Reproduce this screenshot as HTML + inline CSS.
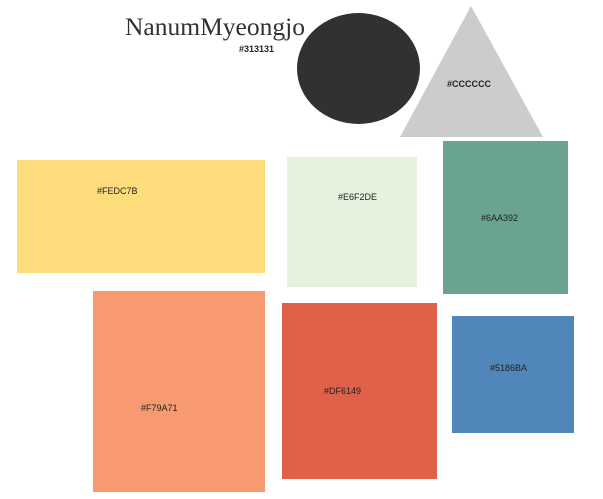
<!DOCTYPE html>
<html><head><meta charset="utf-8"><style>
html,body{margin:0;padding:0;background:#fff;width:603px;height:499px;overflow:hidden}
svg{display:block}
.l{font-family:"Liberation Sans",Arial,sans-serif;font-size:9px;fill:#222}
</style></head><body>
<svg width="603" height="499" viewBox="0 0 603 499">
<text x="125" y="35" font-family="Liberation Serif,serif" font-size="25" fill="#313131" textLength="180" lengthAdjust="spacingAndGlyphs">NanumMyeongjo</text>
<text x="239" y="52" class="l" font-weight="bold" font-size="8.5">#313131</text>
<ellipse cx="358.5" cy="68.5" rx="61.5" ry="55.5" fill="#313131"/>
<polygon points="471,6 543,137 400,137" fill="#CCCCCC"/>
<text x="447" y="87" class="l" font-weight="bold">#CCCCCC</text>
<rect x="17" y="160" width="248" height="113" fill="#FEDC7B"/>
<text x="97" y="194" class="l">#FEDC7B</text>
<rect x="287" y="157" width="130" height="130" fill="#E6F2DE"/>
<text x="338" y="200" class="l">#E6F2DE</text>
<rect x="443" y="141" width="125" height="153" fill="#6AA392"/>
<text x="481" y="221" class="l">#6AA392</text>
<rect x="93" y="291" width="172" height="201" fill="#F79A71"/>
<text x="141" y="411" class="l">#F79A71</text>
<rect x="282" y="303" width="155" height="176" fill="#DF6149"/>
<text x="324" y="394" class="l">#DF6149</text>
<rect x="452" y="316" width="122" height="117" fill="#5186BA"/>
<text x="490" y="371" class="l">#5186BA</text>
</svg>
</body></html>
